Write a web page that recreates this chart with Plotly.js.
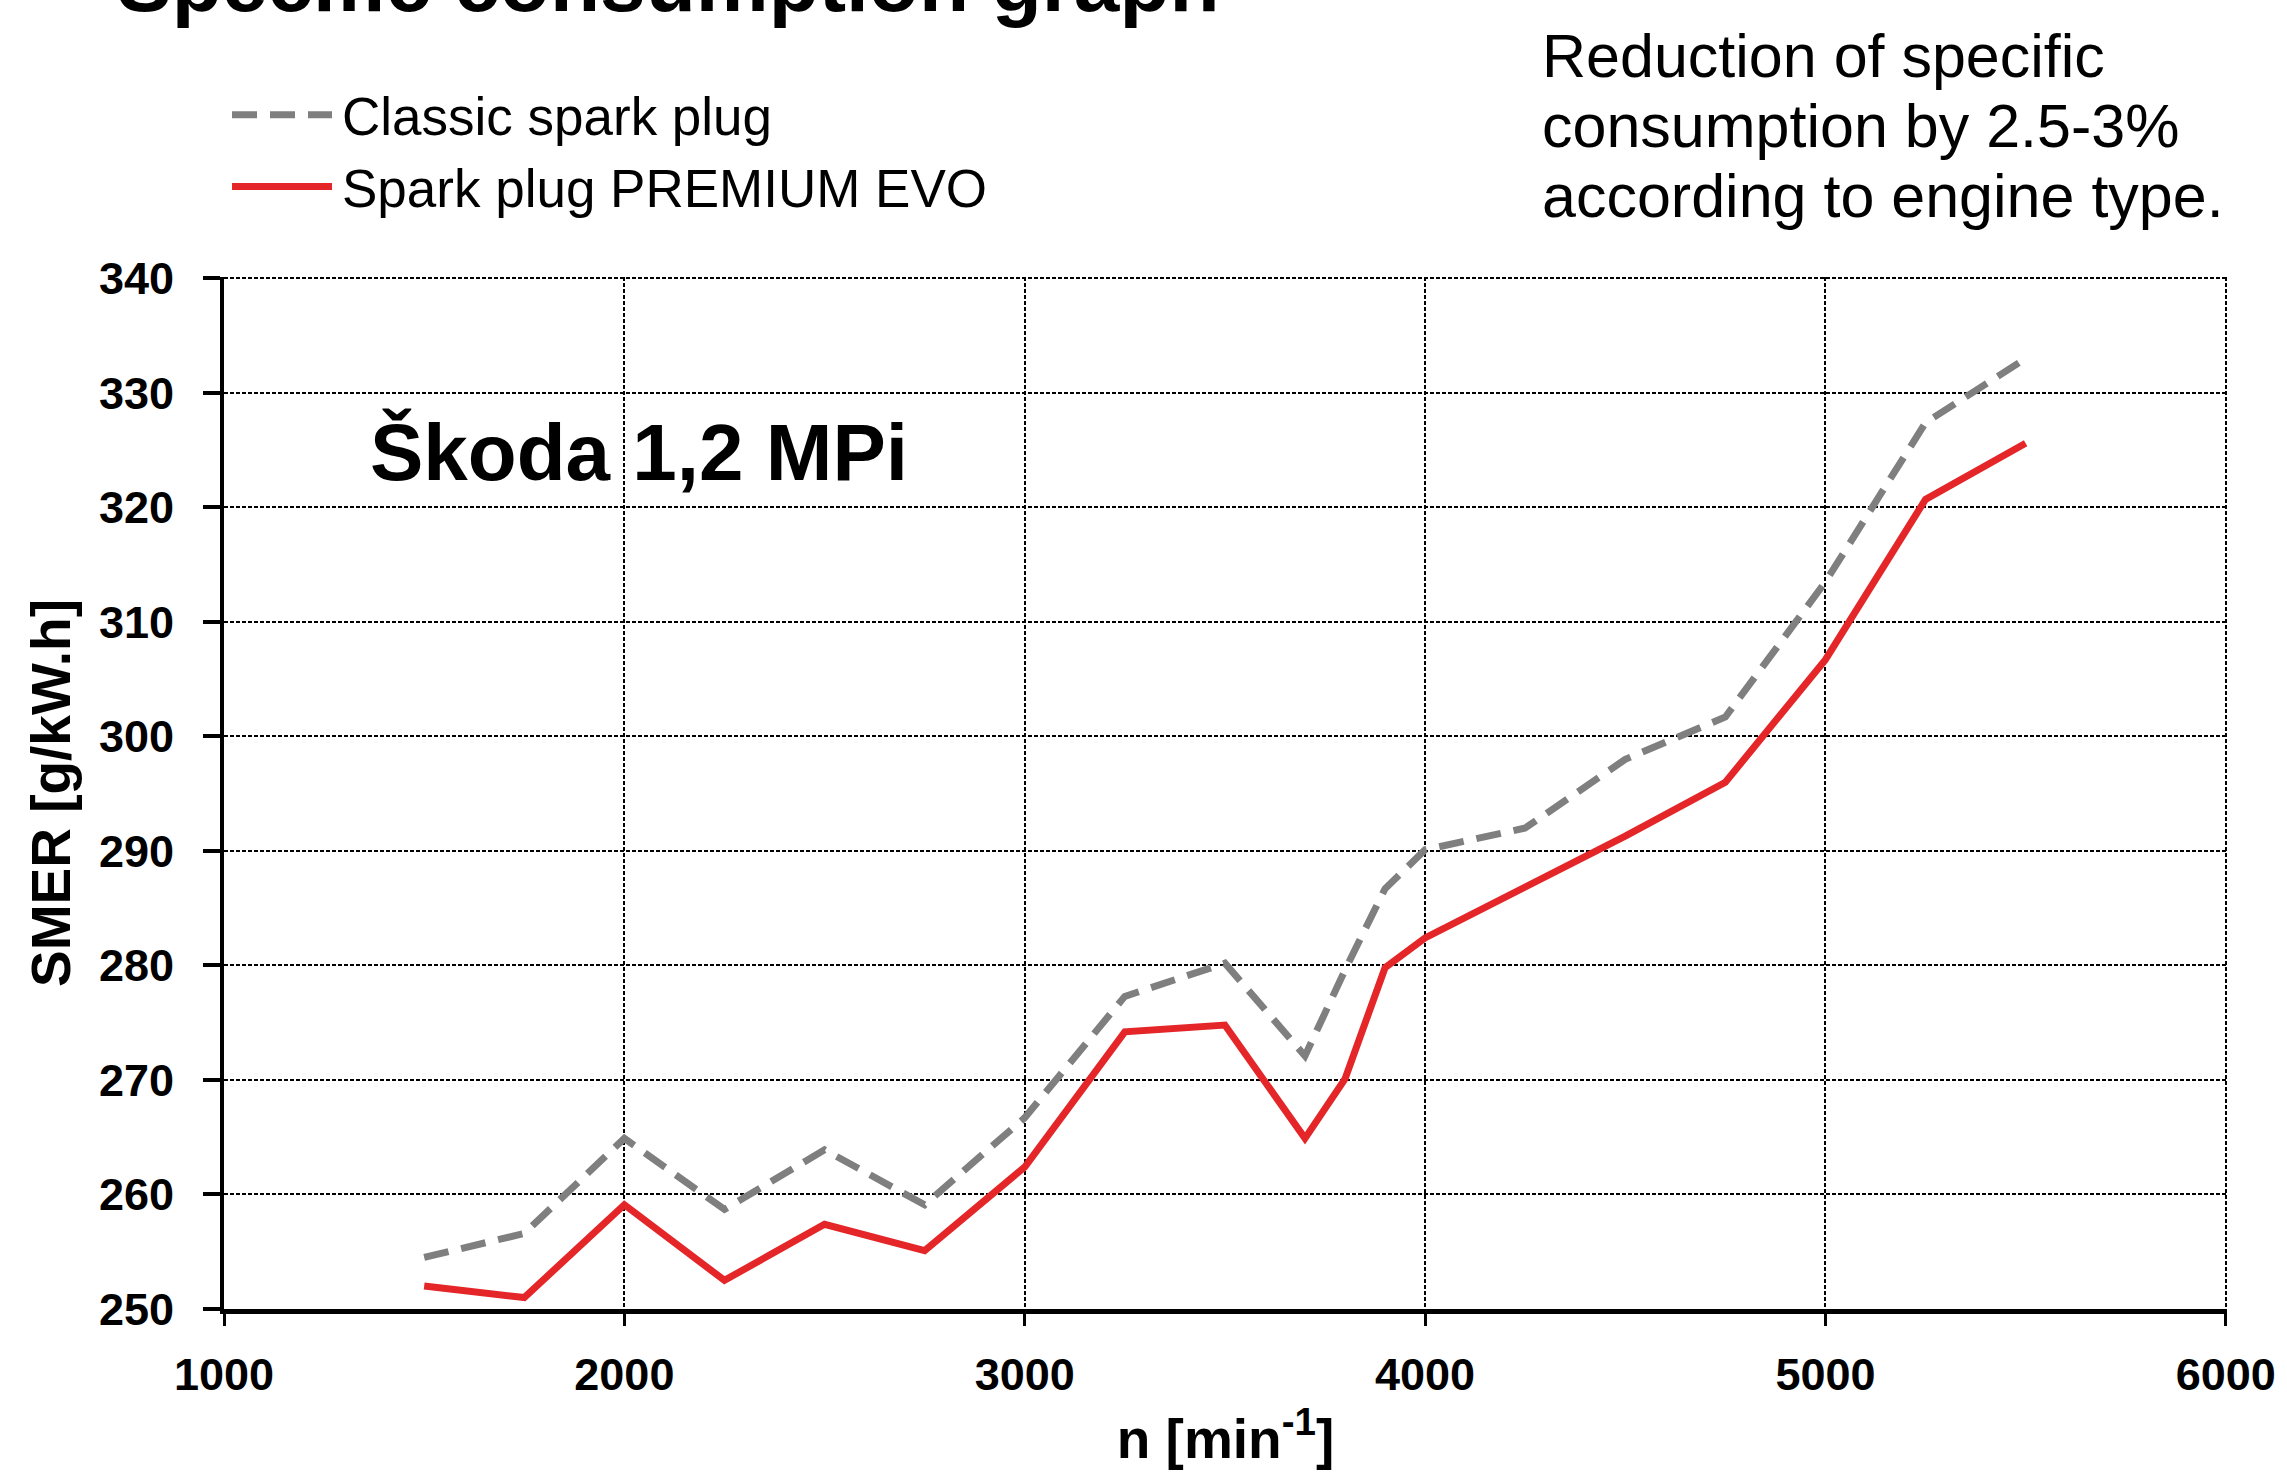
<!DOCTYPE html>
<html><head><meta charset="utf-8">
<script src="https://cdn.plot.ly/plotly-3.0.1.min.js"></script>
<style>html,body{margin:0;padding:0;background:#fff}</style>
</head><body>
<div id="chart" style="width:2287px;height:1476px"></div>
<script>
// ---- data ----
const rpm = [1500,1750,2000,2250,2500,2750,3000,3250,3500,3700,3800,3900,4000,4250,4500,4750,5000,5250,5500];
const classicSMER = [254.5,256.6,264.9,258.7,263.9,259.1,266.7,277.3,280.2,272.1,279.6,286.7,290.1,292.0,298.0,301.7,313.5,327.4,333.0];
const premiumSMER = [252.0,251.0,259.1,252.5,257.4,255.1,262.4,274.2,274.8,264.9,270.1,279.8,282.4,286.9,291.3,296.0,306.7,320.7,325.6];
const seriesNames = ["Classic spark plug", "Spark plug PREMIUM EVO"];
const xTickVals = [1000,2000,3000,4000,5000,6000];
const yTickVals = [250,260,270,280,290,300,310,320,330,340];
const chartTitle = "Specific consumption graph";
const engineLabel = "Škoda 1,2 MPi";
const noteLines = ["Reduction of specific", "consumption by 2.5-3%", "according to engine type."];
const xTitle = "n [min<sup>-1</sup>]";
const yTitle = "SMER [g/kW.h]";

const FONT = "Liberation Sans, Arial, Helvetica, sans-serif";

const traces = [
  {x: rpm, y: classicSMER, name: seriesNames[0], type: "scatter", mode: "lines",
   line: {color: "#7f7f7f", width: 7, dash: "25px,13px"}},
  {x: rpm, y: premiumSMER, name: seriesNames[1], type: "scatter", mode: "lines",
   line: {color: "#e52629", width: 7}}
];

const noteY = [1.2141, 1.1463, 1.0785];
const annotations = noteLines.map((t, i) => ({
  text: t, xref: "paper", yref: "paper", x: 0.657, y: noteY[i],
  xanchor: "left", yanchor: "middle", showarrow: false,
  font: {family: FONT, size: 61, color: "#000"}
}));
annotations.push({
  text: engineLabel, xref: "paper", yref: "paper", x: 0.072, y: 0.830,
  xanchor: "left", yanchor: "middle", showarrow: false,
  font: {family: FONT, size: 80, color: "#000", weight: "bold"}
});

const layout = {
  width: 2287, height: 1476,
  paper_bgcolor: "#fff", plot_bgcolor: "#fff",
  margin: {l: 224, r: 60, t: 277, b: 167, autoexpand: false},
  font: {family: FONT, color: "#000"},
  title: {text: chartTitle, xref: "container", x: 117/2287, xanchor: "left",
          yref: "paper", y: 1, yanchor: "bottom", pad: {b: 266},
          font: {family: FONT, size: 82, color: "#000", weight: "bold"}},
  showlegend: true,
  legend: {x: 0.004, y: 1.197, xanchor: "left", yanchor: "top",
           itemwidth: 100, font: {family: FONT, size: 53, color: "#000"},
           bgcolor: "rgba(0,0,0,0)", borderwidth: 0, tracegroupgap: 0},
  xaxis: {range: [1000, 6003], tickvals: xTickVals, ticktext: xTickVals.map(String),
          showline: true, linecolor: "#000", linewidth: 5,
          ticks: "outside", ticklen: 12, tickwidth: 3, tickcolor: "#000",
          ticklabelstandoff: 10,
          tickfont: {family: FONT, size: 45, color: "#000", weight: "bold"},
          showgrid: true, gridcolor: "#000", gridwidth: 2, griddash: "4px,2px",
          zeroline: false, fixedrange: true,
          title: {text: xTitle, standoff: 22, font: {family: FONT, size: 55, color: "#000", weight: "bold"}}},
  yaxis: {range: [250, 340.12], tickvals: yTickVals, ticktext: yTickVals.map(String),
          showline: true, linecolor: "#000", linewidth: 4,
          ticks: "outside", ticklen: 17, tickwidth: 4, tickcolor: "#000",
          ticklabelstandoff: 20,
          tickfont: {family: FONT, size: 45, color: "#000", weight: "bold"},
          showgrid: true, gridcolor: "#000", gridwidth: 2, griddash: "4px,2px",
          zeroline: false, fixedrange: true,
          title: {text: yTitle, standoff: 12, font: {family: FONT, size: 55, color: "#000", weight: "bold"}}},
  annotations: annotations
};

Plotly.newPlot("chart", traces, layout, {staticPlot: true, displayModeBar: false}).then(gd => {
  gd.querySelectorAll(".legend .legendlines path").forEach(p => p.setAttribute("d", "M0,0h100"));
});
</script>
</body></html>
